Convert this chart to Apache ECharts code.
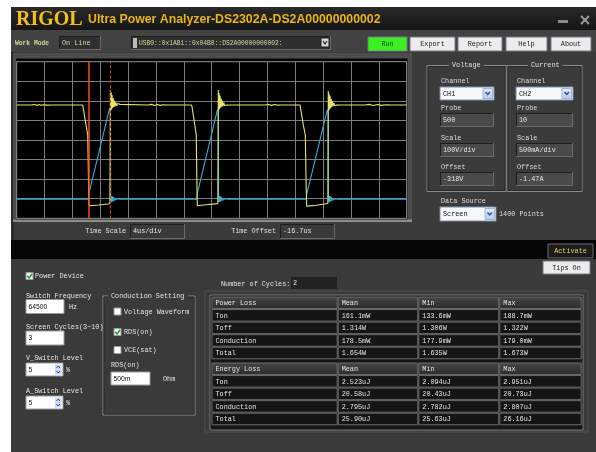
<!DOCTYPE html>
<html><head><meta charset="utf-8">
<script src="https://cdn.jsdelivr.net/npm/echarts@6/dist/echarts.min.js"></script>
<style>html,body{margin:0;padding:0;background:#fff;}#c{width:596px;height:452px;}</style>
</head><body><div id="c"></div>
<script>
// ---------- DATA ----------
// voltage trace CH1: [time us, volts]
const voltageTrace = [
[0.0,497],[2.2,497],[2.6,500],[2.9,494],[3.2,499],[3.5,495],[3.8,498],[4.3,496],[5.0,497],
[9.48,497],[9.95,395],[10.2,344],[10.32,90],[10.38,-18],[11.8,-14],[13.38,-8],
[13.46,573],[13.5,468],[13.56,562],[13.63,474],[13.7,548],[13.78,482],[13.86,532],[13.94,487],[14.03,520],[14.13,490],[14.24,510],[14.36,493],[14.5,504],[14.66,495],[14.85,500],[15.1,497],
[18.8,497],[19.4,500],[19.8,494],[20.2,499],[20.6,495],[21.0,498],[21.6,497],
[25.13,497],[25.55,400],[25.78,344],[25.88,90],[25.93,-18],[27.2,-13],[28.88,-7],
[28.95,573],[29.0,470],[29.06,558],[29.13,476],[29.2,545],[29.28,483],[29.36,530],[29.44,488],[29.53,518],[29.63,491],[29.74,509],[29.86,494],[30.0,503],[30.16,496],[30.35,499],[30.6,497],
[35.6,497],[36.2,499],[36.6,495],[37.0,499],[37.4,496],[37.9,497],
[40.68,497],[41.15,395],[41.44,344],[41.56,90],[41.64,-20],[43.0,-15],[44.68,-6],
[44.74,568],[44.79,466],[44.85,556],[44.92,474],[44.99,544],[45.07,481],[45.15,529],[45.23,487],[45.32,517],[45.42,491],[45.53,508],[45.65,494],[45.8,503],[45.96,496],[46.15,499],[46.4,497],
[50.0,497],[50.6,500],[51.2,494],[51.8,499],[52.4,495],[53.0,498],[53.8,497],[56.0,497]
];
// current trace CH2: [time us, amps]
const currentTrace = [
[0,-0.04],[10.3,-0.04],[10.38,0.11],[13.34,2.28],[13.46,2.2],[13.5,0.05],[13.56,-0.12],[13.62,0.04],[13.68,-0.11],[13.75,0.03],[13.83,-0.09],[13.92,0.01],[14.02,-0.07],[14.14,-0.02],[14.3,-0.06],[14.5,-0.03],[14.8,-0.04],
[25.85,-0.04],[25.93,0.1],[28.84,2.25],[28.95,2.18],[28.99,0.05],[29.05,-0.12],[29.11,0.04],[29.17,-0.11],[29.24,0.03],[29.32,-0.09],[29.41,0.01],[29.51,-0.07],[29.63,-0.02],[29.79,-0.06],[30.0,-0.03],[30.3,-0.04],
[41.58,-0.04],[41.64,0.08],[44.6,2.24],[44.72,2.16],[44.77,0.05],[44.83,-0.12],[44.89,0.04],[44.95,-0.11],[45.02,0.03],[45.1,-0.09],[45.19,0.01],[45.29,-0.07],[45.41,-0.02],[45.57,-0.06],[45.78,-0.03],[46.1,-0.04],[56,-0.04]
];
const cursorTimes = [10.29, 13.44];        // us
const timeRange = [0, 56];                 // 14 div x 4 us
const voltRange = [-82, 718];              // 8 div x 100 V, offset -318 V
const ampRange = [-0.53, 3.47];            // 8 div x 0.5 A, offset -1.47 A
const tableColumns = ["Mean","Min","Max"];
const powerLossRows = [
  ["Ton","161.1mW","133.6mW","188.7mW"],
  ["Toff","1.314W","1.306W","1.322W"],
  ["Conduction","178.5mW","177.9mW","179.0mW"],
  ["Total","1.654W","1.635W","1.673W"]
];
const energyLossRows = [
  ["Ton","2.523uJ","2.094uJ","2.951uJ"],
  ["Toff","20.58uJ","20.43uJ","20.73uJ"],
  ["Conduction","2.795uJ","2.782uJ","2.807uJ"],
  ["Total","25.90uJ","25.63uJ","26.16uJ"]
];
const toolbarButtons = ["Export","Report","Help","About"];

// ---------- UI helpers ----------
const G = [];
const FONT = '6.8px "Liberation Mono"';
function R(x,y,w,h,fill,stroke,lw,z){G.push({type:'rect',silent:true,z:(z===undefined?-50:z),shape:{x:x,y:y,width:w,height:h},style:{fill:fill||'none',stroke:stroke||null,lineWidth:lw||1}});}
function L(x1,y1,x2,y2,stroke,lw,z){G.push({type:'line',silent:true,z:(z===undefined?-40:z),shape:{x1:x1,y1:y1,x2:x2,y2:y2},style:{stroke:stroke,lineWidth:lw||1}});}
function P(points,stroke,lw,z){G.push({type:'polyline',silent:true,z:(z===undefined?60:z),shape:{points:points},style:{stroke:stroke,lineWidth:lw||1,fill:null}});}
function T(x,y,text,c,a,f){G.push({type:'text',silent:true,z:100,x:x,y:y,style:{text:text,fill:c||'#e0e0e0',font:f||FONT,align:a||'left',textAlign:a||'left',verticalAlign:'middle',textVerticalAlign:'middle'}});}
function inset(x,y,w,h,fill){R(x,y,w,h,fill,null);L(x,y+0.5,x+w,y+0.5,'#1e1e1e',1);L(x+0.5,y,x+0.5,y+h,'#1e1e1e',1);L(x,y+h-0.5,x+w,y+h-0.5,'#6a6a6a',1);L(x+w-0.5,y,x+w-0.5,y+h,'#6a6a6a',1);}
function button(x,y,w,h,label,fill,tc){R(x,y,w,h,fill,'#6e7a86',1);T(x+w/2,y+h/2+0.5,label,tc||'#202020','center');}
function combo(x,y,w,h,label){R(x,y,w,h,'#f6f8fc','#7d8fa8',1);T(x+3,y+h/2+0.5,label,'#111');
  const bx=x+w-11;R(bx,y+1.5,9.5,h-3,new echarts.graphic.LinearGradient(0,0,0,1,[{offset:0,color:'#e4ecfa'},{offset:1,color:'#b8cbef'}]),'#9fb3d6',1,-30);
  P([[bx+2.5,y+h/2-1.5],[bx+4.75,y+h/2+1],[bx+7,y+h/2-1.5]],'#2d4f9a',1.5);}
function check(x,y,on){R(x,y,7,7,'#ffffff','#9a9a9a',1,-30);if(on)P([[x+1.3,y+3.5],[x+3,y+5.4],[x+6,y+1.4]],'#1f9e22',1.6);}
function group(x,y,w,h,title,tx,bg){R(x,y,w,h,null,'#8a8a8a',1,-30);R(x+1,y+1,w-2,h-2,null,'#2a2a2a',1,-30);
  const tw=title.length*4.1+6;R(tx-3,y-3,tw,6,bg,null,0,-20);T(tx,y,title,'#e0e0e0');}

// window background
R(0,0,596,452,'#ffffff',null,0,-100);
R(11,7,585,445,'#3b3b3b',null,0,-90);
R(11,7,3,445,'#2c2c2c',null,0,-80);
// title bar
R(11,7,585,23,new echarts.graphic.LinearGradient(0,0,0,1,[{offset:0,color:'#2a2a2a'},{offset:1,color:'#151515'}]),null,0,-80);
T(16,19.5,'RIGOL','#f4bf1c','left','bold 20px "Liberation Serif"');
T(88,20,'Ultra Power Analyzer-DS2302A-DS2A00000000002','#eab41a','left','bold 12.3px "Liberation Sans"');
R(558,20,10,3,'#8a8a8a',null,0,-20);
L(581,16,589,24,'#9a9a9a',2,-20);L(589,16,581,24,'#9a9a9a',2,-20);
// toolbar
R(11,30,585,22,'#424242',null,0,-80);
T(15,43,'Work Mode','#d6d59c','left','bold 6.3px "Liberation Mono"');
inset(59,36,42,14,'#2f2f2f');T(62,43,'On Line','#d6d59c');
inset(131,36,200,14,'#2f2f2f');
R(133,38,4,10,'#bdbdbd',null,0,-20);
T(139,43,'USB0::0x1AB1::0x04B0::DS2A00000000002:','#d6d59c','left','6.3px "Liberation Mono"');
R(321,38,8,9,'#d8d8d8','#202020',1,-20);P([[323,41],[325,44],[327,41]],'#202020',1.2);
button(368,37,39,14,'Run','#3cf022','#1a3a1a');
const bx=[410,458,506,551], bw=[45,44,41,40];
toolbarButtons.forEach((b,i)=>button(bx[i],37,bw[i],14,b,'#ececec'));
// scope frame
R(13,53,399,169,'#4d4d4d',null,0,-70);
R(16,58.5,391.5,161.5,'#000000',null,0,-60);
R(13,219.5,399,2.5,'#8c8c8c',null,0,-55);
// time scale row
T(126,231,'Time Scale','#e0e0e0','right');
inset(130,224,55,15,'#3a3a3a');T(133,231.5,'4us/div','#e8e8e8');
T(276,231,'Time Offset','#e0e0e0','right');
inset(280,224,55,15,'#3a3a3a');T(283,231.5,'-16.7us','#e8e8e8');
// right panel
const PBG='#3b3b3b';
group(427,65.5,79,126,'Voltage',452,PBG);
group(507,65.5,75,126,'Current',531,PBG);
[[441,'CH1','500','100V/div','-318V',440,54],[517,'CH2','10','500mA/div','-1.47A',516,57]].forEach(c=>{
  T(c[0],81,'Channel','#dcdcdc');combo(c[5],87,c[6],13,c[1]);
  T(c[0],108,'Probe','#dcdcdc');inset(c[5],113,c[6],14,'#4a4a4a');T(c[5]+3,120.5,c[2],'#e8e8e8');
  T(c[0],138,'Scale','#dcdcdc');inset(c[5],143,c[6],14,'#4a4a4a');T(c[5]+3,150.5,c[3],'#e8e8e8');
  T(c[0],167,'Offset','#dcdcdc');inset(c[5],172,c[6],14,'#4a4a4a');T(c[5]+3,179.5,c[4],'#e8e8e8');
});
T(441,201.5,'Data Source','#dcdcdc');
combo(440,207,56,14,'Screen');
T(499,214.5,'1400 Points','#dcdcdc');
// black band
R(11,240,585,19,'#060606',null,0,-70);
R(548,244,45,14,'#1c1c1c','#6a6a6a',1,-60);T(570.5,251.5,'Activate','#e9d46a','center');
// lower panel
R(11,259,585,193,'#3a3a3a',null,0,-75);
button(543,261,47,13,'Tips On','#ececec');
check(26,272.5,true);T(35,276.5,'Power Device','#e4e4e4');
T(26,296,'Switch Frequency','#e4e4e4');
R(26,299.5,38,14,'#ffffff','#9a9a9a',1,-30);T(28.5,307,'64500','#111','left','6.8px "Liberation Sans"');
T(69,307,'Hz','#e4e4e4');
T(26,327,'Screen Cycles(3~10)','#e4e4e4');
R(26,331,38,14,'#ffffff','#9a9a9a',1,-30);T(28.5,338.5,'3','#111','left','6.8px "Liberation Sans"');
[[358.5,363,'V_Switch Level'],[391,396,'A_Switch Level']].forEach(s=>{
  T(26,s[0],s[2],'#e4e4e4');
  R(26,s[1],37,13,'#ffffff','#9a9a9a',1,-30);T(28.5,s[1]+7,'5','#111','left','6.8px "Liberation Sans"');
  R(55,s[1]+1.5,6.5,10,'#c9d8f2',null,0,-20);
  P([[56.5,s[1]+5],[58.25,s[1]+3],[60,s[1]+5]],'#2d4f9a',1);P([[56.5,s[1]+8],[58.25,s[1]+10],[60,s[1]+8]],'#2d4f9a',1);
  T(66,s[1]+7.5,'%','#e4e4e4');
});
group(103,296,92,119,'Conduction Setting',111,'#3a3a3a');
check(114,308,false);T(124,312,'Voltage Waveform','#e4e4e4');
check(114,328.5,true);T(124,332,'RDS(on)','#e4e4e4');
check(114,346.5,false);T(124,350,'VCE(sat)','#e4e4e4');
T(111,365.5,'RDS(on)','#e4e4e4');
R(111,372,39,13,'#ffffff','#9a9a9a',1,-30);T(113.5,379,'500m','#111','left','6.8px "Liberation Sans"');
T(163,379,'Ohm','#e4e4e4');
// table
T(221,284,'Number of Cycles:','#e4e4e4');
R(291,277,46,12,'#222222',null,0,-30);T(293,283.5,'2','#e8e8e8');
R(205,291,383,141,null,'#505050',1,-60);
R(210,295,373,135,'#161616','#7a7a7a',1,-55);
const colX=[211.5,337.7,418.3,499.3,581.7];
const rowH=12.55;
function block(top,title,rows){
  const all=[[title].concat(tableColumns)].concat(rows);
  all.forEach((r,ri)=>{
    const y=top+ri*rowH;
    for(let ci=0;ci<4;ci++){
      const x=colX[ci],w=colX[ci+1]-colX[ci];
      const fill= ri===0 ? new echarts.graphic.LinearGradient(0,0,0,1,[{offset:0,color:'#474747'},{offset:1,color:'#2c2c2c'}]) : '#151515';
      R(x+0.5,y+0.5,w-1,rowH-1,fill,'#6c6c6c',1,-45);
      T(x+4,y+rowH/2+0.5,r[ci],'#e6e6e6');
    }
  });
}
block(296.5,'Power Loss',powerLossRows);
block(362.5,'Energy Loss',energyLossRows);

// ---------- chart ----------
const chart = echarts.init(document.getElementById('c'),null,{renderer:'canvas'});
chart.setOption({
  animation:false,
  backgroundColor:'transparent',
  graphic:{elements:G},
  grid:{left:16.7,top:61.7,width:390,height:156.6,show:true,backgroundColor:'#000',borderColor:'#7c7c7c',borderWidth:1,containLabel:false},
  xAxis:{type:'value',min:timeRange[0],max:timeRange[1],interval:4,axisLine:{show:false},axisTick:{show:false},axisLabel:{show:false},splitLine:{show:true,lineStyle:{color:'#7c7c7c',width:1}}},
  yAxis:[
    {type:'value',min:0,max:8,interval:1,axisLine:{show:false},axisTick:{show:false},axisLabel:{show:false},splitLine:{show:true,lineStyle:{color:'#7c7c7c',width:1}}},
    {type:'value',min:voltRange[0],max:voltRange[1],show:false,splitLine:{show:false}},
    {type:'value',min:ampRange[0],max:ampRange[1],show:false,splitLine:{show:false}}
  ],
  series:[
    {type:'line',name:'CH2',yAxisIndex:2,data:currentTrace,showSymbol:false,symbol:'none',lineStyle:{color:'#33aee0',width:1.1},z:3},
    {type:'line',name:'CH1',yAxisIndex:1,data:voltageTrace,showSymbol:false,symbol:'none',lineStyle:{color:'#e4e46a',width:1.1},z:4,
      markLine:{silent:true,symbol:'none',label:{show:false},animation:false,
        data:[{xAxis:cursorTimes[0],lineStyle:{color:'#ff4a16',width:1.5,type:'solid'}},
              {xAxis:cursorTimes[1],lineStyle:{color:'#e2401a',width:1,type:[3,2]}}]}}
  ]
});
</script></body></html>
